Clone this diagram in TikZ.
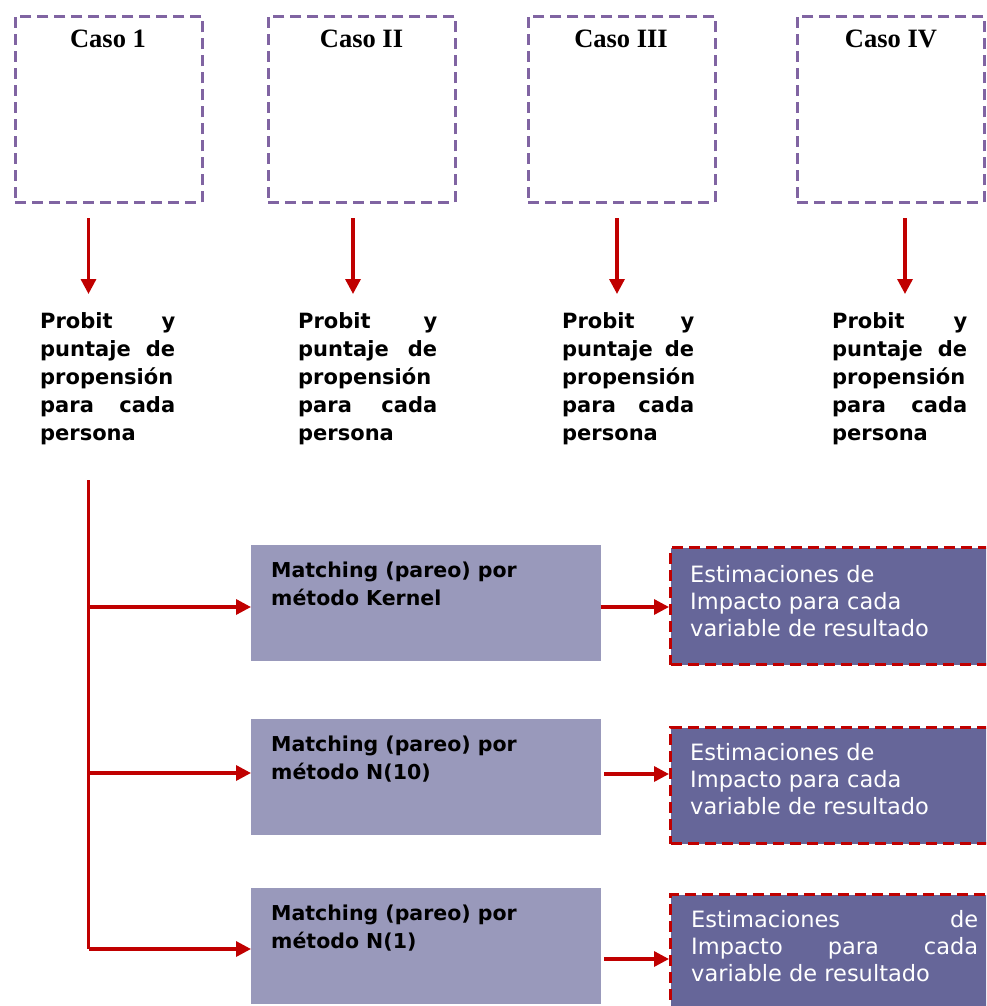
\documentclass[tikz,border=0pt]{standalone}
\usepackage{fontspec}
\newfontfamily\dv{DejaVu Sans}
\newfontfamily\lsr{Liberation Serif}
\usetikzlibrary{arrows.meta}
\definecolor{casoline}{HTML}{8064A2}
\definecolor{redline}{HTML}{C00000}
\definecolor{matchfill}{HTML}{9999BB}
\definecolor{estfill}{HTML}{666699}
\begin{document}
\begin{tikzpicture}[x=1pt,y=-1pt,
  casobox/.style={draw=casoline, line width=2.8pt, dash pattern=on 11pt off 6pt,
    minimum width=187pt, minimum height=186pt, anchor=north west, inner sep=0pt},
  casotitle/.style={font=\lsr\bfseries\fontsize{26.5}{30}\selectfont, anchor=base, inner sep=0pt},
  probit/.style={font=\dv\bfseries\fontsize{21}{28}\selectfont, anchor=base west, inner sep=0pt, align=left},
  matchbox/.style={fill=matchfill, minimum width=349.5pt, minimum height=116pt, anchor=north west, inner sep=0pt},
  matchtext/.style={font=\dv\bfseries\fontsize{20.5}{28}\selectfont, anchor=base west, inner sep=0pt, align=left},
  estbox/.style={fill=estfill, draw=redline, line width=3pt, dash pattern=on 11pt off 6pt,
    minimum width=330pt, anchor=north west, inner sep=0pt},
  esttext/.style={font=\dv\fontsize{22.5}{27}\selectfont, text=white, anchor=base west, inner sep=0pt, align=left},
  redln/.style={draw=redline, line width=3.3pt},
  arr/.style={redln, -{Triangle[length=15pt,width=15pt]}}
]
\useasboundingbox (0,0) rectangle (986,1006);
\clip (0,0) rectangle (986,1006);

% case boxes
\node[casobox] (c1) at (14,15) {};
\node[casobox] (c2) at (267,15) {};
\node[casobox] (c3) at (527,15) {};
\node[casobox] (c4) at (796,15) {};
\node[casotitle] (t1) at (108,48) {Caso 1};
\node[casotitle] (t2) at (361.5,48) {Caso II};
\node[casotitle] (t3) at (621,48) {Caso III};
\node[casotitle] (t4) at (891,48) {Caso IV};

% probit texts (base anchor = last line baseline)
\node[probit] (p1) at (40,440) {\makebox[135pt][l]{Probit\hfill y}\\\makebox[135pt][l]{puntaje\hfill de}\\propensión\\\makebox[135pt][l]{para\hfill cada}\\persona};
\node[probit] (p2) at (298,440) {\makebox[139pt][l]{Probit\hfill y}\\\makebox[139pt][l]{puntaje\hfill de}\\propensión\\\makebox[139pt][l]{para\hfill cada}\\persona};
\node[probit] (p3) at (562,440) {\makebox[132pt][l]{Probit\hfill y}\\\makebox[132pt][l]{puntaje\hfill de}\\propensión\\\makebox[132pt][l]{para\hfill cada}\\persona};
\node[probit] (p4) at (832,440) {\makebox[135pt][l]{Probit\hfill y}\\\makebox[135pt][l]{puntaje\hfill de}\\propensión\\\makebox[135pt][l]{para\hfill cada}\\persona};

% down arrows
\coordinate (d1s) at (88.5,218); \coordinate (d1e) at (88.5,294);
\coordinate (d2s) at (353,218);  \coordinate (d2e) at (353,294);
\coordinate (d3s) at (617,218);  \coordinate (d3e) at (617,294);
\coordinate (d4s) at (905,218);  \coordinate (d4e) at (905,294);
\draw[arr] (d1s) -- (d1e);
\draw[arr] (d2s) -- (d2e);
\draw[arr] (d3s) -- (d3e);
\draw[arr] (d4s) -- (d4e);

% matching boxes
\node[matchbox] (m1) at (251,545) {};
\node[matchbox] (m2) at (251,719) {};
\node[matchbox] (m3) at (251,888) {};
\node[matchtext] (mt1) at (271,605) {Matching (pareo) por\\método Kernel};
\node[matchtext] (mt2) at (271,779) {Matching (pareo) por\\método N(10)};
\node[matchtext] (mt3) at (271,948) {Matching (pareo) por\\método N(1)};

% estimation boxes
\node[estbox, minimum height=117pt] (e1) at (669,546) {};
\node[estbox, minimum height=116pt] (e2) at (669,726) {};
\node[estbox, minimum height=130pt] (e3) at (669,893) {};
\node[esttext] (et1) at (690,636) {Estimaciones de\\Impacto para cada\\variable de resultado};
\node[esttext] (et2) at (690,814) {Estimaciones de\\Impacto para cada\\variable de resultado};
\node[esttext] (et3) at (691,981) {\makebox[287pt][l]{Estimaciones\hfill de}\\\makebox[287pt][l]{Impacto\hfill para\hfill cada}\\variable de resultado};

% trunk and branches
\coordinate (tr) at (88.5,480);
\coordinate (j1) at (88.5,607);
\coordinate (j2) at (88.5,773);
\coordinate (j3) at (88.5,949);
\draw[redln] (tr) -- (j3);
\draw[arr] (j1) -- (j1 -| m1.west);
\draw[arr] (j2) -- (j2 -| m2.west);
\draw[arr] (j3) -- (j3 -| m3.west);

% matching -> estimations
\coordinate (h1) at (600.5,607);
\coordinate (h2) at (604,774);
\coordinate (h3) at (604,959);
\draw[arr] (h1) -- (h1 -| e1.west);
\draw[arr] (h2) -- (h2 -| e2.west);
\draw[arr] (h3) -- (h3 -| e3.west);
\end{tikzpicture}
\end{document}
